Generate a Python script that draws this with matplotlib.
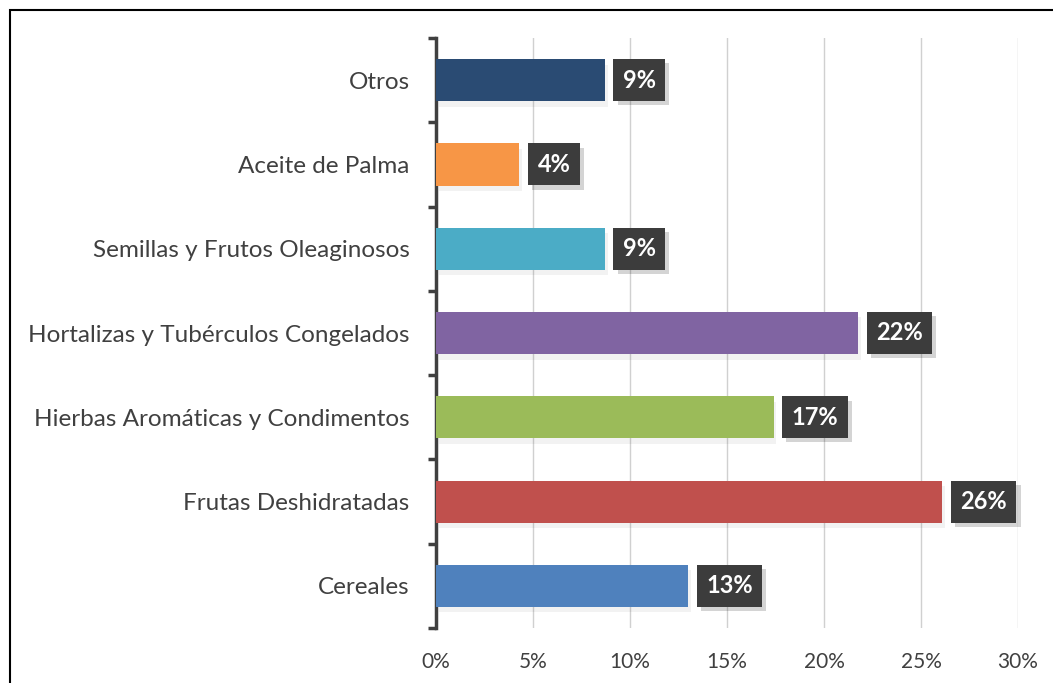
import matplotlib
matplotlib.use("Agg")
import matplotlib.pyplot as plt
from matplotlib.patches import Rectangle
import matplotlib.patheffects as pe

categories = ["Cereales", "Frutas Deshidratadas", "Hierbas Aromáticas y Condimentos",
              "Hortalizas y Tubérculos Congelados", "Semillas y Frutos Oleaginosos",
              "Aceite de Palma", "Otros"]
values = [13.0, 26.1, 17.4, 21.75, 8.7, 4.3, 8.7]
colors = ["#4F81BD", "#C0504D", "#9BBB59", "#8064A2", "#4BACC6", "#F79646", "#2A4B73"]
xticks = [0, 5, 10, 15, 20, 25, 30]

plt.rcParams['font.family'] = ['Lato', 'DejaVu Sans']

W, H = 1053, 683
fig = plt.figure(figsize=(W/100, H/100), dpi=100)
ax = fig.add_axes([436/W, (H-628)/H, 582/W, 590/H])

ypos = list(range(len(categories)))
bars = ax.barh(ypos, values, height=0.5, color=colors, zorder=3)
for b in bars:
    b.set_path_effects([pe.SimplePatchShadow(offset=(2, -4), shadow_rgbFace="#000000", alpha=0.05),
                        pe.Normal()])

for y, v in zip(ypos, values):
    t = ax.annotate(f"{round(v)}%", xy=(v, y), xytext=(13, 0), textcoords="offset points",
                    ha="left", va="center", fontsize=17, fontweight="bold", color="white",
                    bbox=dict(boxstyle="square,pad=0.4", fc="#3C3C3C", ec="none"), zorder=5)
    t.get_bbox_patch().set_path_effects([pe.SimplePatchShadow(offset=(3, -3), alpha=0.18),
                                         pe.Normal()])

ax.set_xlim(0, 30)
ax.set_ylim(-0.5, len(categories) - 0.5)
ax.set_xticks(xticks)
ax.set_xticklabels([f"{t}%" for t in xticks])
ax.set_yticks(ypos)
ax.set_yticklabels(categories)
ax.set_yticks([i - 0.5 for i in range(len(categories) + 1)], minor=True)

ax.grid(axis="x", color="#D0D0D0", linewidth=1, zorder=0)
for s in ["top", "right", "bottom"]:
    ax.spines[s].set_visible(False)
ax.spines["left"].set_color("#404040")
ax.spines["left"].set_linewidth(2.5)

ax.tick_params(axis="x", length=0, pad=17, labelsize=15, labelcolor="#404040")
ax.tick_params(axis="y", which="major", length=0, pad=19, labelsize=17.5, labelcolor="#404040")
ax.tick_params(axis="y", which="minor", length=6, width=2.5, color="#404040")

fig.patches.append(Rectangle((10/W, -0.02), 1.05, 1 - 10/H + 0.02, transform=fig.transFigure,
                             fill=False, ec="black", lw=1.5))

fig.savefig("out.png", dpi=100)
